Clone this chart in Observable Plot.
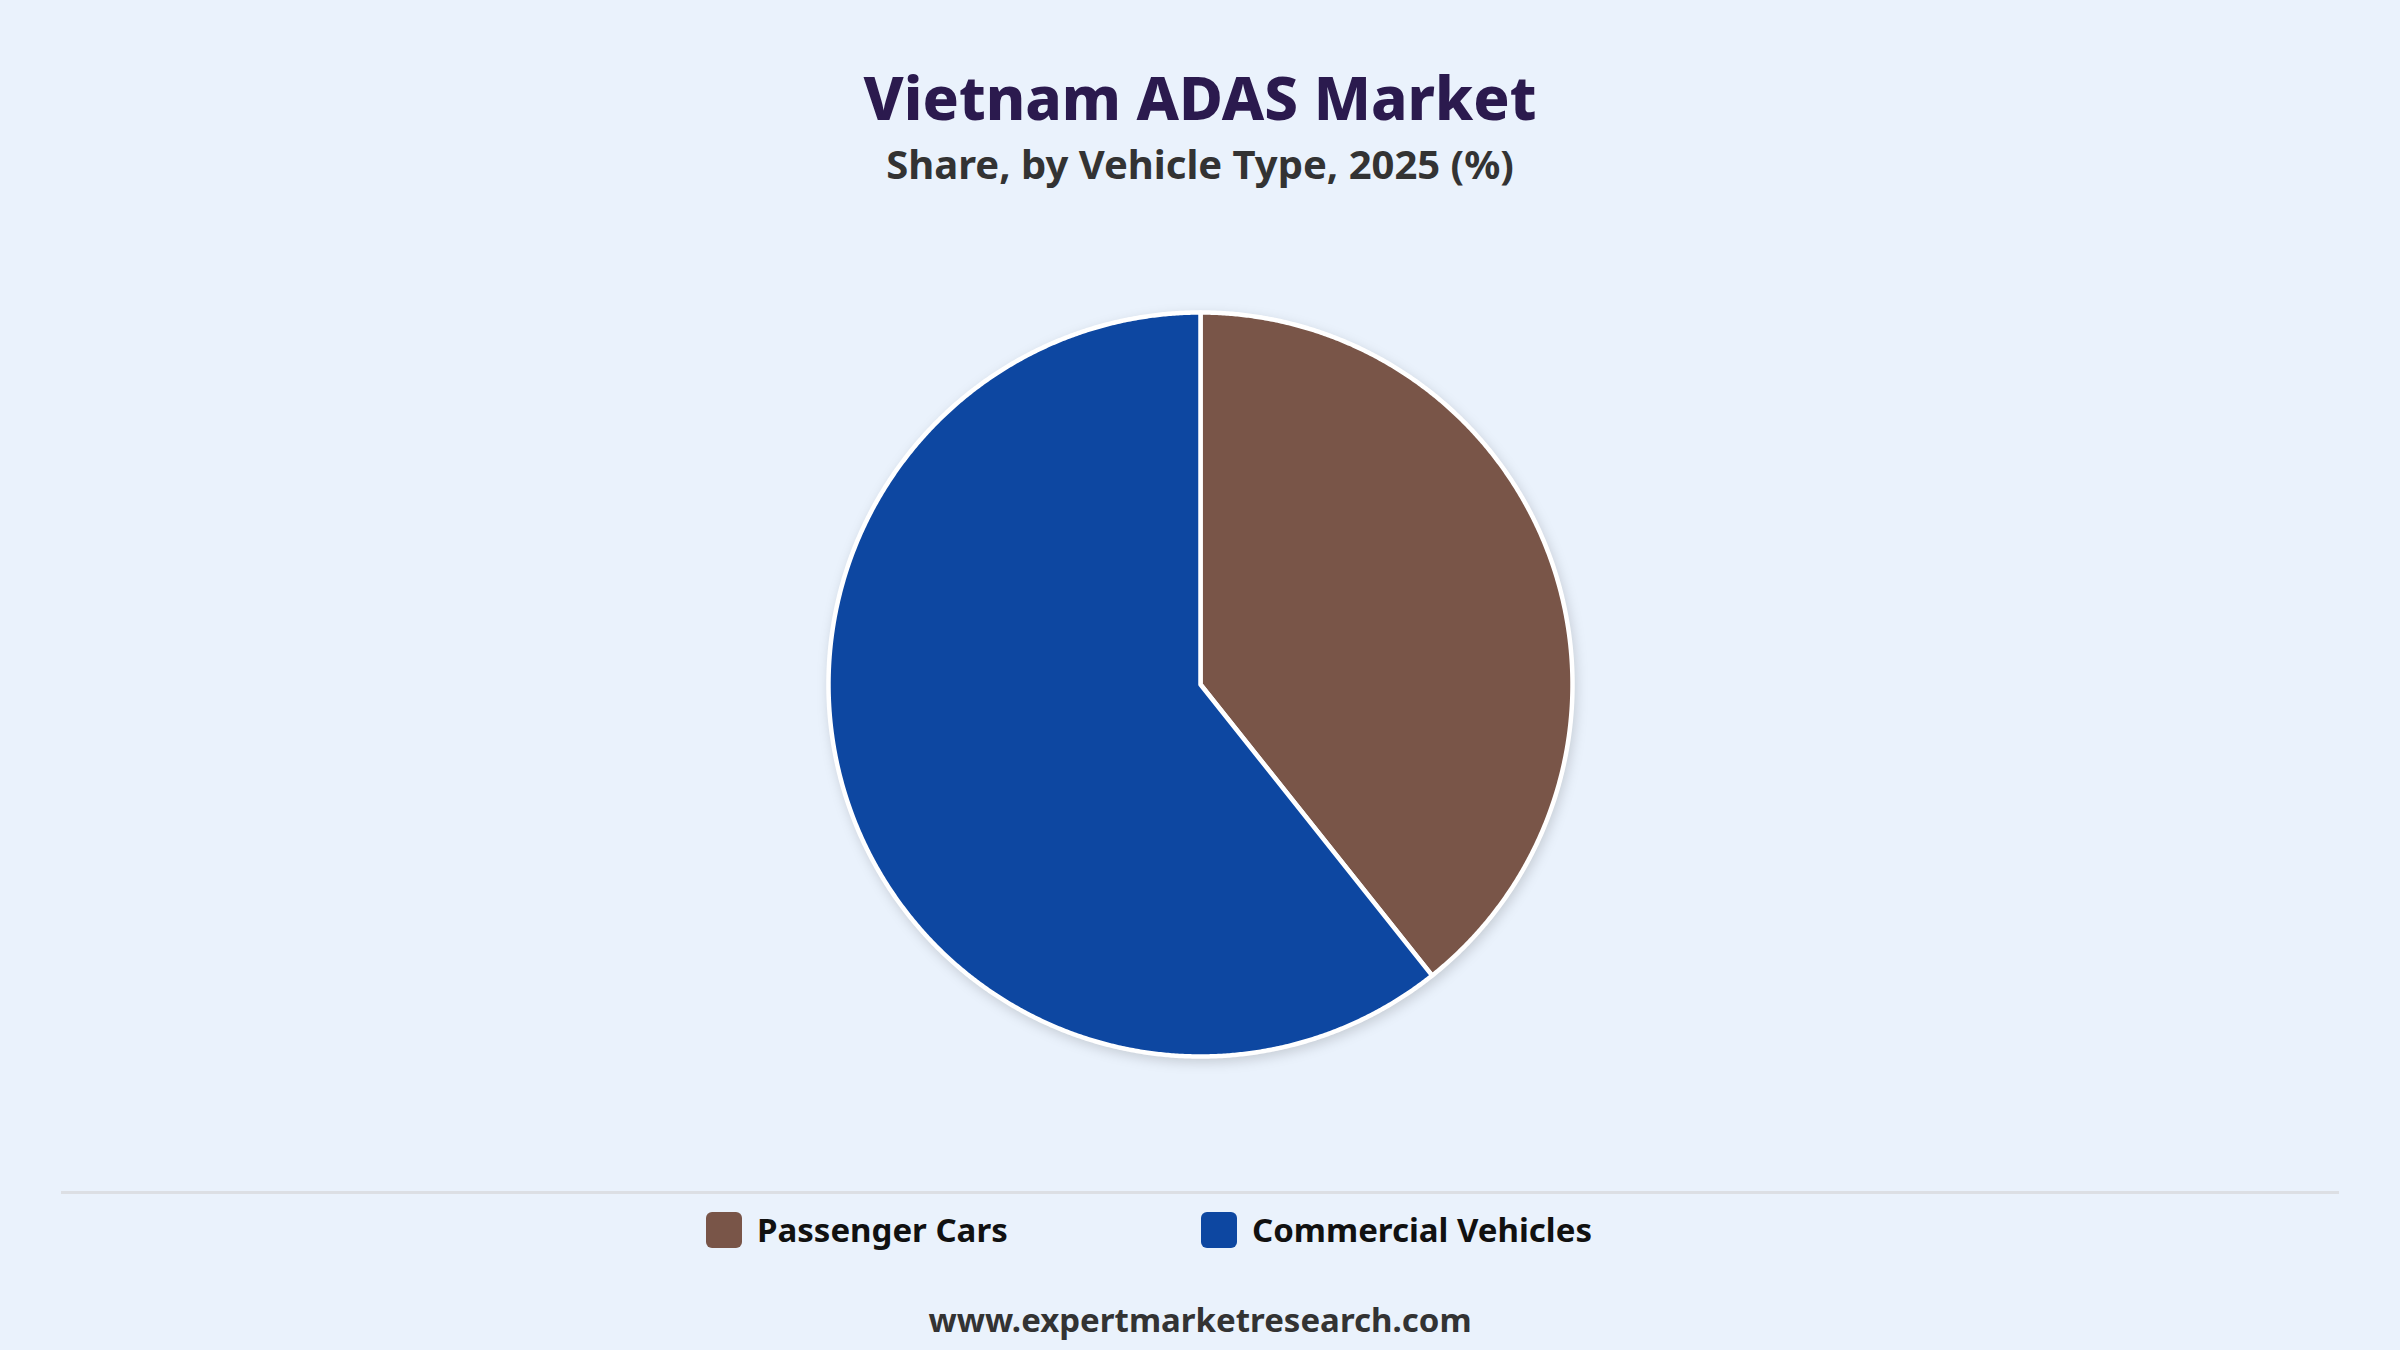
<!DOCTYPE html>
<html>
<head>
<meta charset="utf-8">
<script src="https://cdn.jsdelivr.net/npm/d3@7"></script>
<script src="https://cdn.jsdelivr.net/npm/@observablehq/plot@0.6"></script>
<style>
  html, body { margin: 0; padding: 0; }
  body { width: 2400px; height: 1350px; background: #EAF2FC; position: relative; overflow: hidden; font-family: "Noto Sans", "Open Sans", sans-serif; }
  .t { position: absolute; left: 0; width: 2400px; text-align: center; white-space: nowrap; }
  #title { top: 67px; font-size: 60px; line-height: 60px; font-weight: 800; color: #2B1A4E; }
  #subtitle { top: 144px; font-size: 40px; line-height: 40px; font-weight: 700; color: #333333; }
  #footer { top: 1303px; font-size: 33px; line-height: 33px; font-weight: 700; color: #333333; }
  #chart { position: absolute; left: 0; top: 284px; }
  #chart svg { filter: drop-shadow(2px 4px 6px rgba(0,0,0,0.15)); overflow: visible; }
  #sep { position: absolute; left: 61px; width: 2278px; top: 1191px; height: 3px; background: #DCDFE4; }
  #legend { position: absolute; top: 1213px; left: 0; width: 2400px; height: 40px; }
  .sw { position: absolute; width: 36px; height: 36px; border-radius: 6px; top: -1px; }
  .lab { position: absolute; font-size: 33px; line-height: 33px; font-weight: 700; color: #111111; white-space: nowrap; top: 0; }
</style>
</head>
<body>
<div id="title" class="t">Vietnam ADAS Market</div>
<div id="subtitle" class="t">Share, by Vehicle Type, 2025 (%)</div>
<div id="chart"></div>
<div id="sep"></div>
<div id="legend"></div>
<div id="footer" class="t">www.expertmarketresearch.com</div>
<script>
// Data
const categories = ["Passenger Cars", "Commercial Vehicles"];
const shares = [39.3, 60.7];
const colors = ["#795548", "#0D47A1"];
const legendLeft = [706, 1201];

// Build slice outlines from the pie layout (angles from data)
const arcs = d3.pie().sort(null).value(d => d)(shares);
const points = [];
arcs.forEach((a, i) => {
  const name = categories[i];
  points.push({name, x: 0, y: 0});
  const n = Math.max(2, Math.ceil((a.endAngle - a.startAngle) / 0.005));
  for (let k = 0; k <= n; k++) {
    const t = a.startAngle + (a.endAngle - a.startAngle) * k / n;
    points.push({name, x: Math.sin(t), y: Math.cos(t)});
  }
});

const R = 372;
const chart = Plot.plot({
  width: 2400,
  height: 800,
  marginLeft: 1200 - R,
  marginRight: 1200 - R,
  marginTop: 400 - R,
  marginBottom: 400 - R,
  style: { background: "transparent", overflow: "visible" },
  x: { domain: [-1, 1], axis: null },
  y: { domain: [-1, 1], axis: null },
  color: { domain: categories, range: colors },
  marks: [
    Plot.line(points, {
      x: "x", y: "y", z: "name", fill: "name",
      stroke: "white", strokeWidth: 4.5, strokeLinejoin: "round",
      curve: "linear-closed"
    })
  ]
});
document.getElementById("chart").appendChild(chart);

// Legend
const legend = document.getElementById("legend");
categories.forEach((c, i) => {
  const sw = document.createElement("div");
  sw.className = "sw";
  sw.style.left = legendLeft[i] + "px";
  sw.style.background = colors[i];
  legend.appendChild(sw);
  const lab = document.createElement("div");
  lab.className = "lab";
  lab.style.left = (legendLeft[i] + 51) + "px";
  lab.textContent = c;
  legend.appendChild(lab);
});
</script>
</body>
</html>
